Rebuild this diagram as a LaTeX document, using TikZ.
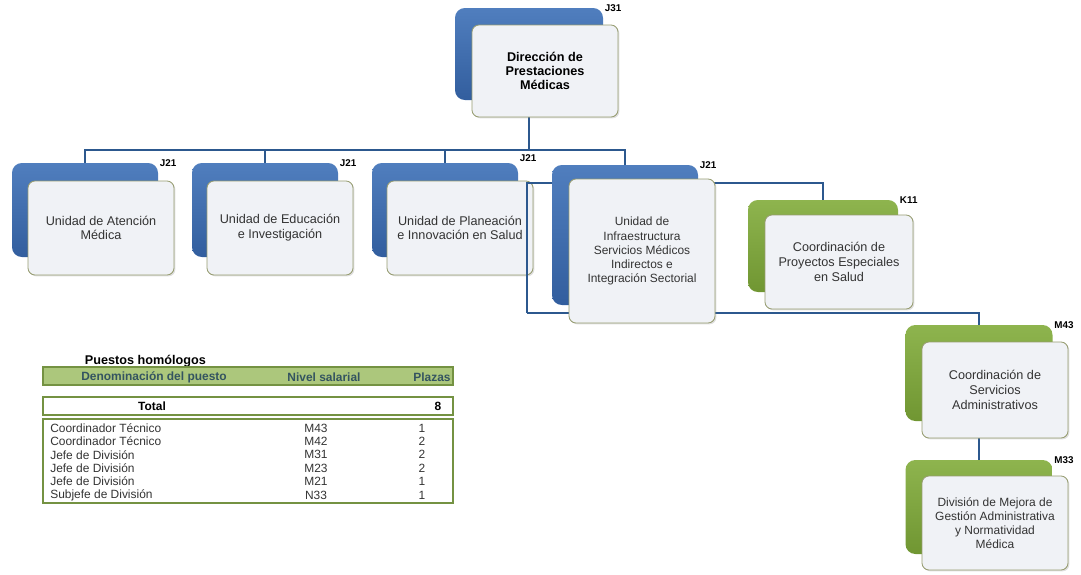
\documentclass[tikz,border=0pt]{standalone}
\usepackage{fontspec}
\setmainfont{Liberation Sans}
\usetikzlibrary{calc,shadows,backgrounds}
\def\px{0.025cm}
\definecolor{orgblue}{RGB}{50,94,158}
\definecolor{orgblueL}{RGB}{80,126,190}
\definecolor{orggreen}{RGB}{112,150,50}
\definecolor{orggreenL}{RGB}{142,180,78}
\definecolor{cardfill}{RGB}{240,242,246}
\definecolor{cardline}{RGB}{150,156,112}
\definecolor{linkcol}{RGB}{44,88,142}
\definecolor{tabgreen}{RGB}{172,199,124}
\definecolor{tabline}{RGB}{116,146,66}
\definecolor{tabtext}{RGB}{52,84,96}
\tikzset{
  back/.style={rounded corners=7pt, minimum width=146*\px, minimum height=94*\px, inner sep=0pt,
    top color=orgblueL, bottom color=orgblue},
  backg/.style={back, top color=orggreenL, bottom color=orggreen},
  card/.style={rounded corners=5pt, minimum width=146*\px, minimum height=94*\px, inner sep=1pt,
    fill=cardfill, draw=cardline, line width=0.6pt, align=center, text=black!80,
    font=\fontsize{9}{10.5}\selectfont,
    drop shadow={shadow xshift=1pt, shadow yshift=-1pt, opacity=0.25}},
  lvl/.style={anchor=west, inner sep=1pt, font=\bfseries\fontsize{7}{8}\selectfont},
  link/.style={draw=linkcol, line width=1.1pt},
  tabbox/.style={minimum width=410*\px, inner sep=0pt, draw=tabline},
  cell/.style={inner sep=0pt, text=black!80, font=\fontsize{8.5}{9}\selectfont},
}
\begin{document}
\begin{tikzpicture}[x=\px, y=-\px]
%%%%% START %%%%%
\useasboundingbox (0,0) rectangle (1081,574);

% direccion
\node[back, minimum width=148*\px, minimum height=92*\px] (dirb) at (529,54) {};
\node[card, minimum height=92*\px, text=black, font=\bfseries\fontsize{9}{10}\selectfont] (dir) at (545,71) {Dirección de\\Prestaciones\\Médicas};
\node[lvl] (dirl) at (dirb.north east) {J31};

% unidades
\node[back] (b1) at (85,210) {};
\node[card] (c1) at (101,228) {Unidad de Atención\\Médica};
\node[lvl] (l1) at (b1.north east) {J21};

\node[back] (b2) at (265,210) {};
\node[card] (c2) at (280,228) {Unidad de Educación\\e Investigación};
\node[lvl] (l2) at (b2.north east) {J21};

\node[back] (b3) at (445,210) {};
\node[card] (c3) at (460,228) {Unidad de Planeación\\e Innovación en Salud};
\node[lvl] (l3) at ([yshift=3pt]b3.north east) {J21};

% enlace lateral, por encima de la tarjeta 3
\coordinate (hub) at (527,183);
\coordinate (low) at (527,313);
\draw[link] (low) -- (hub) -- ++(25,0);

\node[back, minimum height=140*\px] (b4) at (625,235) {};
\node[card, minimum height=144*\px, font=\fontsize{8.5}{10}\selectfont] (c4) at (642,251) {Unidad de\\Infraestructura\\Servicios Médicos\\Indirectos e\\Integración Sectorial};
\node[lvl] (l4) at (b4.north east) {J21};

% coordinaciones
\node[backg, minimum width=150*\px, minimum height=92*\px] (b5) at (823,246) {};
\node[card, minimum width=148*\px] (c5) at (839,262) {Coordinación de\\Proyectos Especiales\\en Salud};
\node[lvl] (l5) at (b5.north east) {K11};

\node[backg, minimum width=147*\px, minimum height=96*\px] (b6) at (979,373) {};
\node[card, minimum height=96*\px] (c6) at (995,390) {Coordinación de\\Servicios\\Administrativos};
\node[lvl] (l6) at (b6.north east) {M43};

\node[backg, minimum width=147*\px] (b7) at (979,507) {};
\node[card, font=\fontsize{8.5}{10}\selectfont] (c7) at (995,523) {División de Mejora de\\Gestión Administrativa\\y Normatividad\\Médica};
\node[lvl] (l7) at (b7.north east) {M33};

% lineas
\coordinate (bus) at (0,150);
\begin{scope}[on background layer]
  \draw[link] (dirb.south) -- (dirb.south |- bus);
  \draw[link] (b1.north) |- (bus -| b4.north) -- (b4.north);
  \draw[link] (b2.north) -- (b2.north |- bus);
  \draw[link] (b3.north) -- (b3.north |- bus);
  \draw[link] (hub) -| (b5.north);
  \draw[link] (low) -| (b6.north);
  \draw[link] (b6.south) -- (b7.north);
\end{scope}

% tabla
\node[anchor=west, font=\bfseries\fontsize{9}{10}\selectfont] (ttl) at (80,361) {Puestos homólogos};
\node[tabbox, minimum height=18*\px, fill=tabgreen, line width=1.2pt] (thd) at (248,376) {};
\node[cell, text=tabtext, font=\bfseries\fontsize{8.5}{9}\selectfont] (hd1) at (154,377.5) {Denominación del puesto};
\node[cell, text=tabtext, font=\bfseries\fontsize{8.5}{9}\selectfont] (hd2) at (324,377.5) {Nivel salarial};
\node[cell, text=tabtext, font=\bfseries\fontsize{8.5}{9}\selectfont] (hd3) at (432,377.5) {Plazas};

\node[tabbox, minimum height=18*\px, line width=1pt] (ttot) at (248,406) {};
\node[cell, text=black, font=\bfseries\fontsize{8.5}{9}\selectfont] (tt1) at (152,406.5) {Total};
\node[cell, text=black, font=\bfseries\fontsize{8.5}{9}\selectfont] (tt3) at (438,406.5) {8};

\node[tabbox, minimum height=84*\px, line width=1.5pt] (tbody) at (248,461) {};
\foreach \nm/\lv/\pl [count=\i from 0] in {Coordinador Técnico/M43/1, Coordinador Técnico/M42/2,
    Jefe de División/M31/2, Jefe de División/M23/2, Jefe de División/M21/1, Subjefe de División/N33/1} {
  \node[cell, anchor=west] (nm\i) at (50,428+13.4*\i) {\nm};
  \node[cell] (lv\i) at (316,428+13.4*\i) {\lv};
  \node[cell] (pl\i) at (422,428+13.4*\i) {\pl};
}
%%%%% END %%%%%
\end{tikzpicture}
\end{document}
